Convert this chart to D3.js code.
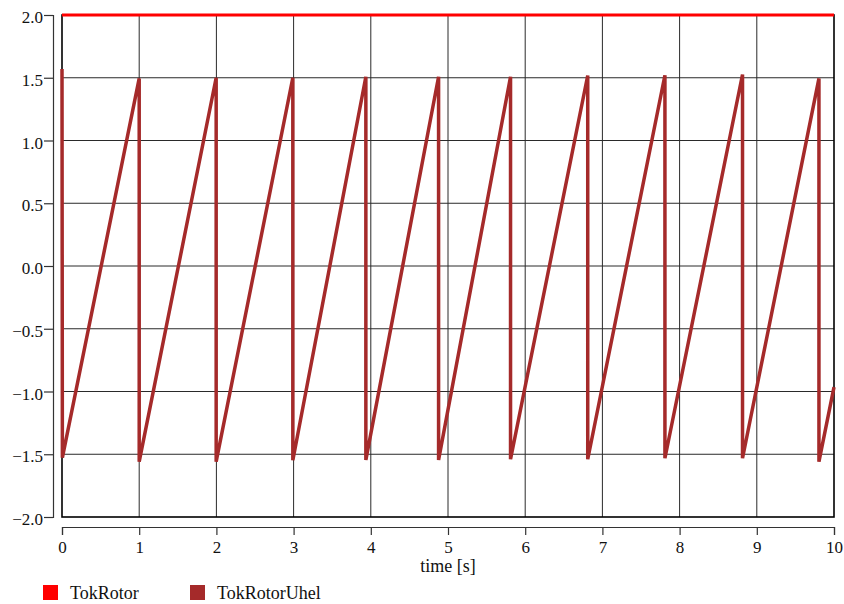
<!DOCTYPE html>
<html>
<head>
<meta charset="utf-8">
<script src="https://cdn.jsdelivr.net/npm/d3@7"></script>
<style>
  html, body { margin: 0; padding: 0; background: #fff; }
  svg { display: block; font-family: "Liberation Serif", "Times New Roman", serif; }
</style>
</head>
<body>
<div id="chart"></div>
<script>
// series names
var seriesNames = ["TokRotor", "TokRotorUhel"];
var seriesColors = ["#ff0000", "#a52a2a"];

// TokRotor is a constant
var rotorTime = [0, 10];
var rotorValue = [2.0, 2.0];

// TokRotorUhel - sawtooth vertices
var uhelTime = [0, 0.005, 1.0, 1.0, 1.997, 1.997, 2.99, 2.99, 3.936, 3.936, 4.878, 4.878,
  5.81, 5.81, 6.81, 6.81, 7.81, 7.81, 8.815, 8.815, 9.805, 9.805, 10];
var uhelValue = [1.57, -1.527, 1.495, -1.559, 1.50, -1.559, 1.50, -1.548, 1.508, -1.545, 1.508, -1.545,
  1.508, -1.54, 1.518, -1.54, 1.52, -1.532, 1.526, -1.532, 1.495, -1.559, -0.965];

var xTicks = [0, 1, 2, 3, 4, 5, 6, 7, 8, 9, 10];
var yTicks = [-2.0, -1.5, -1.0, -0.5, 0.0, 0.5, 1.0, 1.5, 2.0];

var width = 844, height = 604;
var plot = { left: 62, right: 834, top: 15, bottom: 517 };

var svg = d3.select("#chart").append("svg")
  .attr("width", width)
  .attr("height", height);

var x = d3.scaleLinear().domain([0, 10]).range([plot.left, plot.right]);
var y = d3.scaleLinear().domain([-2, 2]).range([plot.bottom, plot.top]);

// grid
var grid = svg.append("g").attr("stroke", "#2a2a2a").attr("stroke-width", 1);
grid.selectAll(".vg")
  .data(xTicks.slice(1, -1))
  .enter().append("line")
  .attr("x1", function (d) { return x(d); })
  .attr("x2", function (d) { return x(d); })
  .attr("y1", plot.top)
  .attr("y2", plot.bottom);
grid.selectAll(".hg")
  .data(yTicks.slice(1, -1))
  .enter().append("line")
  .attr("x1", plot.left)
  .attr("x2", plot.right)
  .attr("y1", function (d) { return y(d); })
  .attr("y2", function (d) { return y(d); });

// frame
svg.append("rect")
  .attr("x", plot.left)
  .attr("y", plot.top)
  .attr("width", plot.right - plot.left)
  .attr("height", plot.bottom - plot.top)
  .attr("fill", "none")
  .attr("stroke", "#000")
  .attr("stroke-width", 1.6);

// axes, detached from the frame
var fmt = function (d) { return d3.format(".1f")(d).replace("-", "\u2212"); };

var yAxis = svg.append("g")
  .attr("transform", "translate(53,0)")
  .call(d3.axisLeft(y).tickValues(yTicks).tickFormat(fmt).tickSize(9).tickPadding(1));
yAxis.selectAll("text").attr("dy", "0.45em");

var xAxis = svg.append("g")
  .attr("transform", "translate(0,527)")
  .call(d3.axisBottom(x).tickValues(xTicks).tickFormat(d3.format("d")).tickSize(8).tickPadding(6));

[yAxis, xAxis].forEach(function (a) {
  a.select(".domain").attr("stroke", "#333").attr("stroke-width", 1.2);
  a.selectAll(".tick line").attr("stroke", "#333").attr("stroke-width", 1.2);
  a.selectAll("text")
    .attr("fill", "#111")
    .style("font-family", "'Liberation Serif', serif")
    .style("font-size", "17px");
});

// lines
var line = d3.line()
  .x(function (d) { return x(d[0]); })
  .y(function (d) { return y(d[1]); });

svg.append("path")
  .datum(d3.zip(uhelTime, uhelValue))
  .attr("d", line)
  .attr("fill", "none")
  .attr("stroke", seriesColors[1])
  .attr("stroke-width", 3.5)
  .attr("stroke-linejoin", "miter")
  .attr("stroke-miterlimit", 2.5);

svg.append("path")
  .datum(d3.zip(rotorTime, rotorValue))
  .attr("d", line)
  .attr("fill", "none")
  .attr("stroke", seriesColors[0])
  .attr("stroke-width", 3);

// x label
svg.append("text")
  .attr("x", x(5))
  .attr("y", 572)
  .attr("text-anchor", "middle")
  .style("font-size", "18px")
  .attr("fill", "#111")
  .text("time [s]");

// legend
var legendX = [43, 190];
var legend = svg.selectAll(".legend")
  .data(seriesNames)
  .enter().append("g")
  .attr("transform", function (d, i) { return "translate(" + legendX[i] + ",585)"; });
legend.append("rect")
  .attr("width", 15)
  .attr("height", 15)
  .attr("fill", function (d, i) { return seriesColors[i]; });
legend.append("text")
  .attr("x", 27)
  .attr("y", 14)
  .style("font-size", "18px")
  .attr("fill", "#111")
  .text(function (d) { return d; });
</script>
</body>
</html>
